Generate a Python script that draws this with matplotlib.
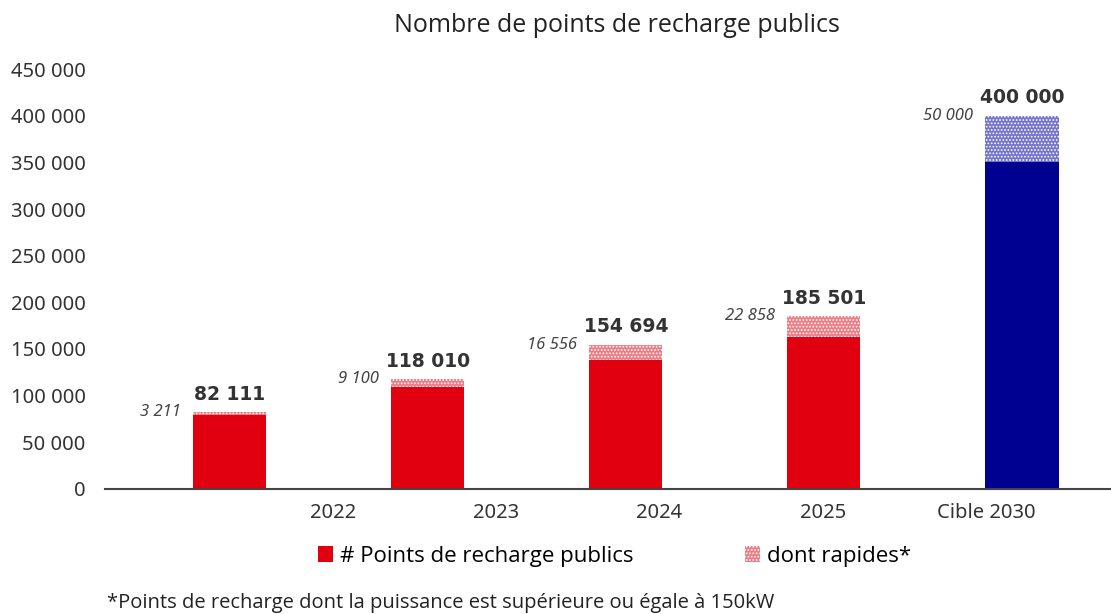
import matplotlib.pyplot as plt
from matplotlib.patches import Patch
import numpy as np

plt.rcParams['font.family'] = ['Noto Sans', 'DejaVu Sans']
plt.rcParams['hatch.linewidth'] = 0.8

# Data
categories = ['2022', '2023', '2024', '2025', 'Cible 2030']
totals = [82111, 118010, 154694, 185501, 400000]
rapides = [3211, 9100, 16556, 22858, 50000]
total_labels = ['82 111', '118 010', '154 694', '185 501', '400 000']
rapides_labels = ['3 211', '9 100', '16 556', '22 858', '50 000']

red = '#e1000f'
red_light = '#ee7c85'
blue = '#000091'
blue_light = '#7474cc'
base_colors = [red, red, red, red, blue]
top_colors = [red_light, red_light, red_light, red_light, blue_light]

fig = plt.figure(figsize=(11.11, 6.14), dpi=100)
ax = fig.add_axes([0.0945, 0.2036, 0.9055, 0.684])

x = np.arange(len(categories))
width = 0.37
base = np.array(totals) - np.array(rapides)

ax.bar(x, base, width, color=base_colors, linewidth=0)
ax.bar(x, rapides, width, bottom=base, color=top_colors,
       edgecolor='white', linewidth=0, hatch='.....')

for i in range(len(categories)):
    ax.annotate(total_labels[i], (x[i], totals[i]), xytext=(0, 6),
                textcoords='offset points', ha='center', va='bottom',
                fontsize=13.5, fontweight='bold', family='DejaVu Sans', color='#333333')
    ax.annotate(rapides_labels[i], (x[i] - width / 2, totals[i]), xytext=(-9, 0),
                textcoords='offset points', ha='right', va='center',
                fontsize=12, fontstyle='italic', color='#444444')

ax.set_xlim(-0.63, 4.45)
ax.set_ylim(0, 450000)
ax.set_yticks(np.arange(0, 450001, 50000))
ax.set_yticklabels(['0'] + [f'{v // 1000} 000' for v in range(50000, 450001, 50000)])

# category labels sit offset from the bars, as in the original
ax.set_xticks(np.linspace(0.52, 3.82, len(categories)))
ax.set_xticklabels(categories)

ax.tick_params(axis='both', length=0, labelsize=14.5, colors='#333333')
ax.tick_params(axis='x', pad=10)
ax.tick_params(axis='y', pad=14)
for s in ['top', 'right', 'left']:
    ax.spines[s].set_visible(False)
ax.spines['bottom'].set_color('#444444')
ax.spines['bottom'].set_linewidth(1.5)

fig.text(0.555, 0.958, 'Nombre de points de recharge publics', ha='center', va='center',
         fontsize=18, family='Open Sans', color='#222222')

handles = [Patch(facecolor=red, linewidth=0),
           Patch(facecolor=red_light, edgecolor='white', linewidth=0, hatch='.....')]
fig.legend(handles, ['# Points de recharge publics', 'dont rapides*'],
           loc='center', bbox_to_anchor=(0.553, 0.094), ncol=2, frameon=False,
           prop={'family': 'Open Sans', 'size': 16}, handlelength=0.7,
           handleheight=0.7, handletextpad=0.3, columnspacing=5.0)

fig.text(0.096, 0.002, '*Points de recharge dont la puissance est supérieure ou égale à 150kW',
         ha='left', va='bottom', fontsize=14.5, family='Open Sans', color='#222222')

fig.savefig('out.png', dpi=100)
